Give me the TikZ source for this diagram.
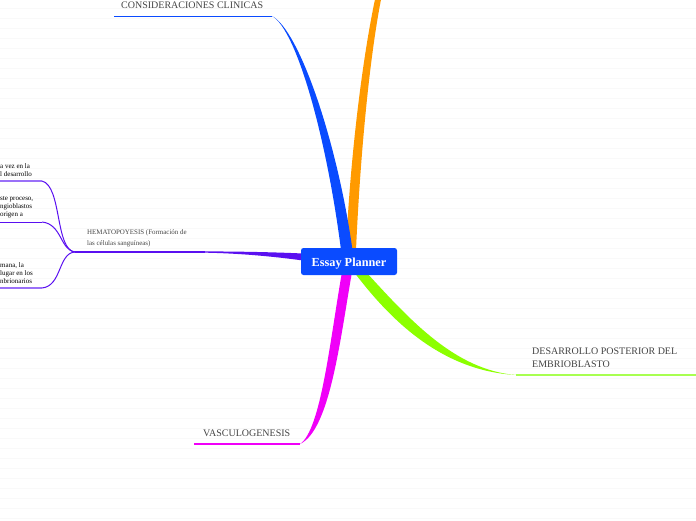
\documentclass[tikz,border=0pt]{standalone}
\usepackage{fontspec}
\setmainfont{Liberation Serif}
\definecolor{cblue}{HTML}{0A4BFF}
\definecolor{corange}{HTML}{FF9A00}
\definecolor{cgreen}{HTML}{8CFF00}
\definecolor{cgreenl}{HTML}{A8FF50}
\definecolor{cmag}{HTML}{F000F8}
\definecolor{cpurple}{HTML}{5A10F0}
\definecolor{cpurplel}{HTML}{9A70F8}
\definecolor{ctext}{HTML}{444444}
\definecolor{cgrid}{HTML}{F9F9F9}
\tikzset{
 lab/.style={inner sep=0pt,anchor=west,align=left,text=ctext,font=\fontsize{10}{12.6}\selectfont},
 hema/.style={inner sep=0pt,anchor=west,align=left,text=ctext,font=\fontsize{6.95}{11.2}\selectfont},
 leaf/.style={inner sep=0pt,anchor=west,align=left,text=black,font=\fontsize{7}{8.1}\selectfont},
 twig/.style={draw=cpurple,line width=1pt},
 root/.style={fill=cblue,rounded corners=2.5pt,minimum width=96pt,minimum height=27pt,inner sep=0pt,text height=9pt,text depth=0pt,text=white,font=\fontsize{12.3}{14}\selectfont\bfseries},
}
\begin{document}
\begin{tikzpicture}[x=1pt,y=-1pt]
\useasboundingbox (0,0) rectangle (696,520);
\foreach \y in {8,18,...,518} \draw[cgrid,line width=.7pt] (0,\y) -- (696,\y);
% tapered main branches
\fill[corange] (356,250) .. controls (360,160) and (369,60) .. (381.5,-3) -- (375.5,-3) .. controls (362,60) and (350,160) .. (346,250) -- cycle;
\fill[cblue] (352.5,250) .. controls (337,140) and (299,30) .. (272,16) .. controls (297,30) and (327,140) .. (341,250) -- cycle;
\fill[cgreen] (366,272) .. controls (410,320) and (455,370) .. (516,375) .. controls (445,371) and (394,325) .. (354,272) -- cycle;
\fill[cmag] (352,272) .. controls (340,340) and (330,430) .. (300,444) .. controls (321,430) and (330,340) .. (342,272) -- cycle;
\fill[cpurple] (303,253.5) .. controls (270,252) and (235,251.4) .. (200,251.4) -- (200,252.6) .. controls (235,253) and (270,256) .. (303,260.5) -- cycle;
% root
\node[root] (root) at (349,261.5) {Essay Planner};
% labels
\node[lab] (clin) at (121,5) {CONSIDERACIONES CLINICAS};
\node[lab] (post) at (532,358) {DESARROLLO POSTERIOR DEL\\EMBRIOBLASTO};
\node[lab] (vasc) at (203,433) {VASCULOGENESIS};
\node[hema] (hema) at (87,238) {HEMATOPOYESIS (Formación de\\las células sanguíneas)};
\node[leaf] (l1) at (0,170) {a vez en la\\l desarrollo};
\node[leaf] (l2) at (0,207) {ste proceso,\\ngioblastos\\origen a};
\node[leaf] (l3) at (0,273) {mana, la\\lugar en los\\nbrionarios};
% underlines
\coordinate (bl) at (114,16.2);
\coordinate (br) at (272,16.2);
\coordinate (gl) at (516,375);
\coordinate (gr) at (696,375);
\coordinate (ml) at (194,444);
\coordinate (mr) at (300,444);
\coordinate (pr) at (205,252);
\coordinate (pj) at (75,252);
\coordinate (a1) at (42,181);
\coordinate (a0) at (0,181);
\coordinate (b1) at (42,222);
\coordinate (b0) at (0,222);
\coordinate (c1) at (42,288);
\coordinate (c0) at (0,288);
\draw[draw=cblue,line width=1.2pt] (bl) -- (br);
\draw[draw=cgreenl,line width=1.4pt] (gl) -- (gr);
\draw[draw=cmag,line width=1.3pt] (ml) -- (mr);
\draw[draw=cpurple,line width=1.2pt] (pj) -- (pr);
\draw[draw=cpurplel,line width=1.5pt] (a0) -- (a1);
\draw[draw=cpurple,line width=1pt] (b0) -- (b1);
\draw[draw=cpurplel,line width=1.5pt] (c0) -- (c1);
\draw[twig] (pj) .. controls (55,250) and (62,186) .. (a1);
\draw[twig] (pj) .. controls (60,250) and (62,224) .. (b1);
\draw[twig] (pj) .. controls (58,253) and (62,286) .. (c1);
\end{tikzpicture}
\end{document}
